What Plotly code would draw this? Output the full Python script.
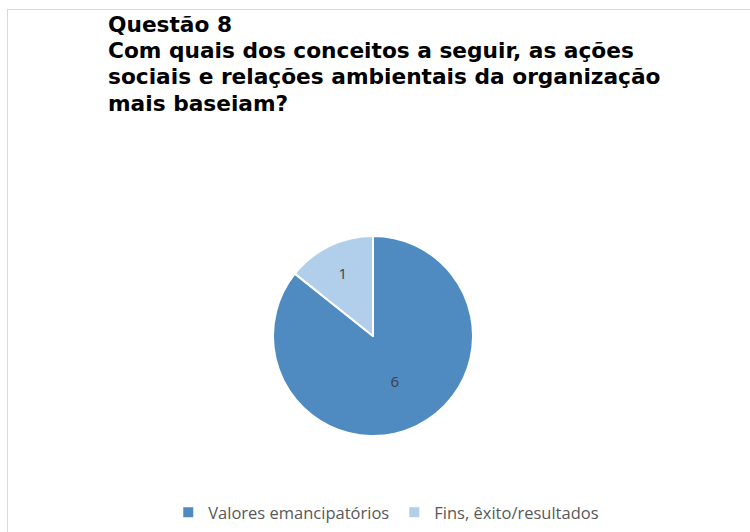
import plotly.graph_objects as go

# Survey answers for question 8
categories = ["Valores emancipatórios", "Fins, êxito/resultados"]
counts = [6, 1]
slice_colors = ["#4F8BC0", "#B1CEEB"]

title_lines = [
    "Questão 8",
    "Com quais dos conceitos a seguir, as ações",
    "sociais e relações ambientais da organização",
    "mais baseiam?",
]

W, H = 750, 532
cx, cy, r = 373, 336, 100  # pie centre and radius in pixels

fig = go.Figure()
fig.add_trace(go.Pie(
    labels=categories,
    values=counts,
    sort=False,
    direction="clockwise",
    rotation=0,
    marker=dict(colors=slice_colors, line=dict(color="white", width=2)),
    textinfo="value",
    textposition="inside",
    insidetextorientation="horizontal",
    textfont=dict(family="Open Sans, sans-serif", size=15, color="#404040"),
    domain=dict(x=[(cx - r) / W, (cx + r) / W], y=[1 - (cy + r) / H, 1 - (cy - r) / H]),
    hoverinfo="label+value",
))

# Title, one line per annotation for tight line spacing
line_gap = 26.5
for i, line in enumerate(title_lines):
    fig.add_annotation(
        text="<b>%s</b>" % line,
        xref="paper", yref="paper",
        x=106 / W, y=1 - (9.5 + i * line_gap) / H,
        xanchor="left", yanchor="top",
        showarrow=False,
        font=dict(family="DejaVu Sans, sans-serif", size=21.7, color="black"),
    )

# Chart-area frame (top and left edges)
frame = dict(color="#D9D9D9", width=1)
fig.add_shape(type="line", xref="paper", yref="paper",
              x0=7 / W, x1=1, y0=1 - 9.5 / H, y1=1 - 9.5 / H, line=frame)
fig.add_shape(type="line", xref="paper", yref="paper",
              x0=7.5 / W, x1=7.5 / W, y0=0, y1=1 - 9.5 / H, line=frame)

fig.update_layout(
    width=W, height=H,
    margin=dict(l=0, r=0, t=0, b=0),
    paper_bgcolor="white",
    plot_bgcolor="white",
    showlegend=True,
    legend=dict(
        orientation="h",
        x=0.515, xanchor="center",
        y=1 - 495 / H, yanchor="top",
        font=dict(family="Open Sans, sans-serif", size=16.5, color="#595959"),
        itemwidth=30,
        traceorder="normal",
    ),
)

fig.write_html("out.html")
